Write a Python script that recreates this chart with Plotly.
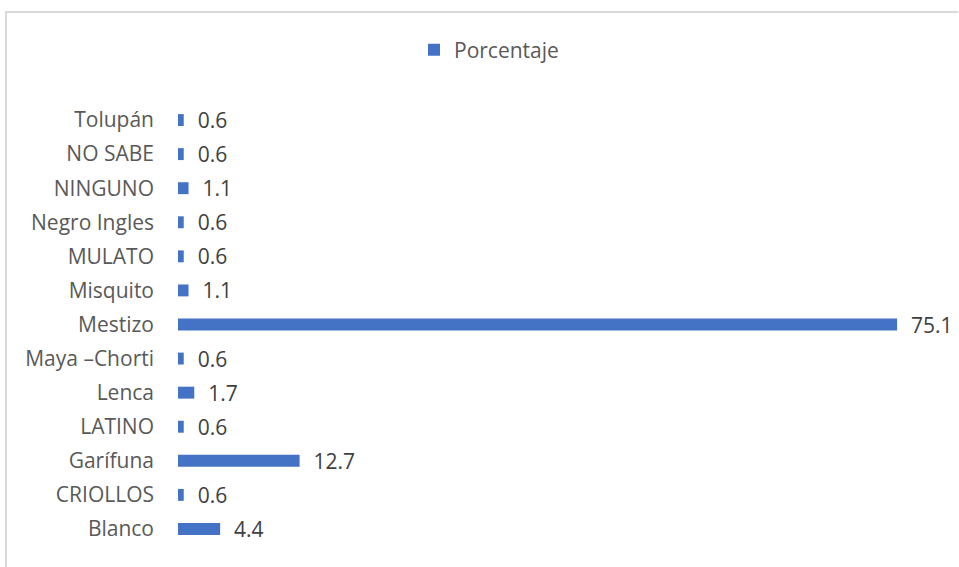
import plotly.graph_objects as go

# Categories (bottom to top) and their percentages
categorias = ["Blanco", "CRIOLLOS", "Garífuna", "LATINO", "Lenca", "Maya –Chorti",
              "Mestizo", "Misquito", "MULATO", "Negro Ingles", "NINGUNO", "NO SABE", "Tolupán"]
porcentaje = [4.4, 0.6, 12.7, 0.6, 1.7, 0.6, 75.1, 1.1, 0.6, 0.6, 1.1, 0.6, 0.6]

BAR_COLOR = "#4472C4"
TEXT_COLOR = "#595959"
FONT = "Open Sans"
FS = 21

fig = go.Figure()
fig.add_trace(go.Bar(
    x=porcentaje,
    y=categorias,
    orientation="h",
    name="Porcentaje",
    marker=dict(color=BAR_COLOR, line=dict(width=0)),
    texttemplate="\u00a0\u00a0%{x:.1f}",
    textposition="outside",
    constraintext="none",
    textfont=dict(family=FONT, size=FS, color="#404040"),
    cliponaxis=False,
))

L, R, T, B = 178, 15, 103, 21
W, H = 959, 567
pw, ph = W - L - R, H - T - B

def px_x(x):
    return (x - L) / pw

def px_y(y):
    return 1 - (y - T) / ph

# light frame: top and left edges
frame = dict(type="line", xref="paper", yref="paper", line=dict(color="#D9D9D9", width=2))
shapes = [
    dict(frame, x0=px_x(5), x1=px_x(958), y0=px_y(12), y1=px_y(12)),
    dict(frame, x0=px_x(6), x1=px_x(6), y0=px_y(12), y1=px_y(567)),
]

fig.update_layout(
    width=W, height=H,
    margin=dict(l=L, r=R, t=T, b=B),
    paper_bgcolor="white",
    plot_bgcolor="white",
    font=dict(family=FONT, size=FS, color=TEXT_COLOR),
    bargap=0.65,
    showlegend=True,
    legend=dict(orientation="h", x=px_x(489), xanchor="center", y=px_y(50), yanchor="middle",
                itemwidth=30,
                font=dict(family=FONT, size=FS, color=TEXT_COLOR)),
    xaxis=dict(range=[0, 80], showgrid=False, zeroline=False, showline=False,
               showticklabels=False, ticks=""),
    yaxis=dict(type="category", categoryorder="array", categoryarray=categorias,
               showgrid=False, zeroline=False, showline=False, ticks="",
               ticklabelstandoff=23, tickfont=dict(family=FONT, size=FS, color=TEXT_COLOR)),
    shapes=shapes,
)

fig.write_html("out.html")
